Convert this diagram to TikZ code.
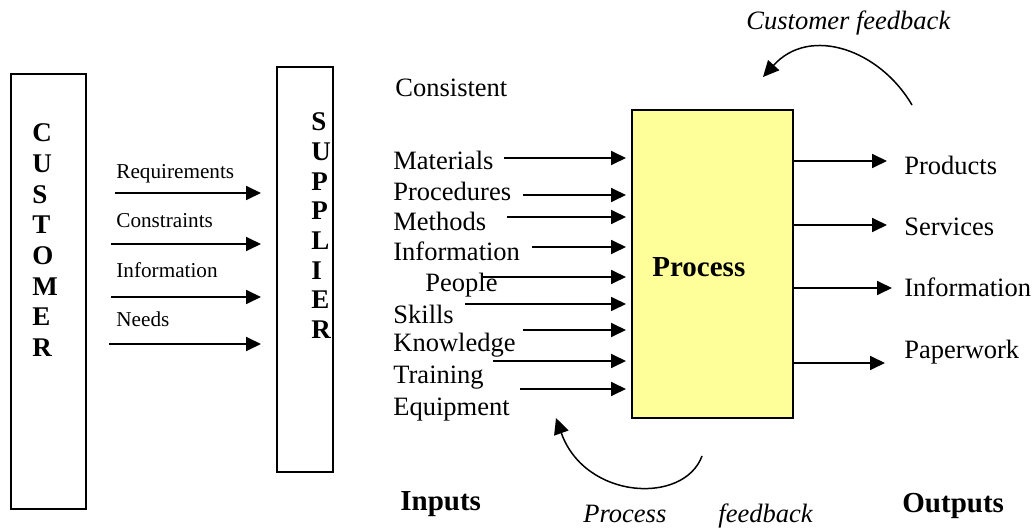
\documentclass[tikz,border=0pt]{standalone}
\usepackage{fontspec}
\setmainfont{Liberation Serif}
\usepackage{xcolor}
\usetikzlibrary{arrows.meta, positioning, calc}

\definecolor{amarillo}{RGB}{255,255,153}

\begin{document}
\begin{tikzpicture}[
    x=0.5pt, y=-0.5pt,
    font=\fontsize{13.25}{15}\selectfont,
    caja/.style={draw, line width=1pt, inner sep=0pt},
    texto/.style={anchor=base west, inner sep=0pt},
    chico/.style={texto, font=\fontsize{10.6}{12}\selectfont},
    titulo/.style={texto, font=\fontsize{14.5}{17}\selectfont\bfseries},
    letra/.style={texto, font=\fontsize{13.5}{15}\selectfont\bfseries},
    cursiva/.style={texto, font=\fontsize{13.25}{15}\selectfont\itshape},
    flecha/.style={line width=0.9pt, -{Triangle[length=7.5pt, width=7pt]}},
    retro/.style={line width=0.75pt, -{Triangle[length=8pt, width=7.5pt]}}
  ]
  \useasboundingbox (0,0) rectangle (1033,529);

  % --- Cajas: cliente, proveedor y proceso ---
  \node[caja, minimum width=37.7pt, minimum height=217.5pt] (cust) at (48.3,291.5) {};
  \node[caja, minimum width=28pt, minimum height=202.5pt] (sup) at (305,269.5) {};
  \node[caja, fill=amarillo, minimum width=80.5pt, minimum height=154pt] (proc) at (712.5,264) {};
  \node[titulo] (proclbl) at (652,277) {Process};

  % --- Letras en vertical ---
  \foreach \ch [count=\i from 0] in {C,U,S,T,O,M,E,R}
    \node[letra] (c\i) at (32,142+30.6*\i) {\ch};
  \foreach \ch [count=\i from 0] in {S,U,P,P,L,I,E,R}
    \node[letra] (p\i) at (311,131+29.6*\i) {\ch};

  % --- Cliente -> proveedor ---
  \foreach \txt/\yl/\ya/\xa [count=\i] in {Requirements/179/193/115, Constraints/228/244/111,
      Information/278/297/111, Needs/327/344/109} {
    \node[chico] (pet\i) at (116,\yl) {\txt};
    \coordinate (r\i) at (\xa,\ya);
    \draw[flecha, shorten >=7.5pt] (r\i) -- (r\i -| sup.west);
  }

  % --- Entradas del proceso ---
  \node[texto] (cons) at (395,97) {Consistent};
  \foreach \txt/\xt/\yt [count=\i] in {Materials/393/170, Procedures/393/201, Methods/393/231,
      Information/393/261, People/425/292, Skills/393/323, Knowledge/393/351,
      Training/393/383, Equipment/393/415}
    \node[texto] (ent\i) at (\xt,\yt) {\txt};
  \foreach \x/\y [count=\i] in {504/158, 523/195, 507/217, 532/247, 483/277,
      465/304, 523/330, 493/361, 520/389} {
    \coordinate (e\i) at (\x,\y);
    \draw[flecha, shorten >=2.5pt] (e\i) -- (e\i -| proc.west);
  }

  % --- Salidas del proceso ---
  \foreach \txt/\yt/\x/\y [count=\i] in {Products/175/887/161, Services/235/887/225,
      Information/297/892/288, Paperwork/358/885/363} {
    \node[texto] (sal\i) at (904,\yt) {\txt};
    \coordinate (s\i) at (\x,\y);
    \draw[flecha] (proc.east |- s\i) -- (s\i);
  }

  % --- Retroalimentacion ---
  \node[cursiva] (cfb) at (746,30) {Customer feedback};
  \coordinate (cf0) at (912,105);
  \coordinate (cf1) at (763,77);
  \draw[retro] (cf0) .. controls (880,50) and (810,25) .. (cf1);

  \coordinate (pf0) at (702,456);
  \coordinate (pf1) at (556,418);
  \draw[retro] (pf0) .. controls (684,505) and (585,500) .. (pf1);
  \node[cursiva] (pfb1) at (583,522) {Process};
  \node[cursiva] (pfb2) at (718,522) {feedback};

  \node[titulo] (inp) at (400,510) {Inputs};
  \node[titulo] (outp) at (902,512) {Outputs};
\end{tikzpicture}
\end{document}
